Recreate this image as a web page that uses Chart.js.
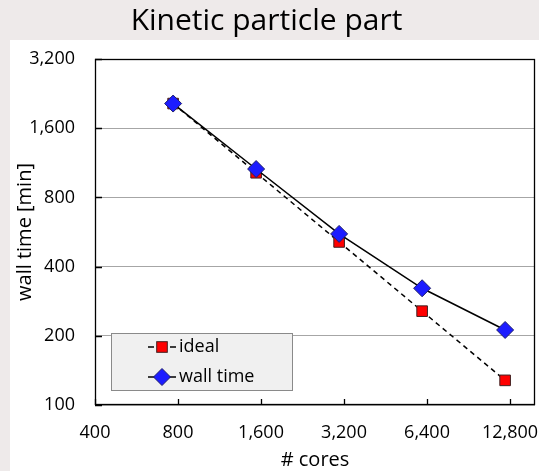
<!DOCTYPE html>
<html><head><meta charset="utf-8">
<script src="https://cdn.jsdelivr.net/npm/chart.js@4/dist/chart.umd.min.js"></script>
<style>html,body{margin:0;padding:0;background:#eeeaea;} #wrap{width:539px;height:471px;position:relative;}</style>
</head><body><div id="wrap"><canvas id="c" width="539" height="471"></canvas></div>
<script>
const chartTitle = 'Kinetic particle part';
const xTitle = '# cores';
const yTitle = 'wall time [min]';
const cores = [768, 1536, 3072, 6144, 12288];
const idealMinutes = [2048, 1024, 512, 256, 128];
const wallTimeMinutes = [2048, 1063, 555, 322, 212];
const xTicks = [400, 800, 1600, 3200, 6400, 12800];
const yTicks = [100, 200, 400, 800, 1600, 3200];
const seriesNames = ['ideal', 'wall time'];

const FONT = 'Open Sans';
const fmt = v => Number(v).toLocaleString('en-US');

const deco = {
  id: 'deco',
  beforeDraw(chart) {
    const ctx = chart.ctx; ctx.save();
    ctx.fillStyle = '#eeeaea'; ctx.fillRect(0, 0, 539, 471);
    ctx.fillStyle = '#ffffff'; ctx.fillRect(10, 40, 529, 431);
    ctx.fillStyle = '#000'; ctx.font = '30px "' + FONT + '"';
    ctx.textAlign = 'center'; ctx.textBaseline = 'alphabetic';
    ctx.fillText(chartTitle, 266.5, 29.5);
    ctx.restore();
  },
  beforeDatasetsDraw(chart) {
    const {ctx, chartArea: a, scales: {x, y}} = chart;
    ctx.save(); ctx.strokeStyle = '#000'; ctx.lineWidth = 1.3;
    const L = Math.round(a.left), T = Math.round(a.top), R = Math.round(a.right), B = Math.round(a.bottom);
    ctx.strokeRect(L + 0.5, T + 0.5, R - L - 1, B - T - 1);
    ctx.beginPath();
    xTicks.forEach(v => { const px = Math.round(x.getPixelForValue(v)) + 0.5; ctx.moveTo(px, a.bottom); ctx.lineTo(px, a.bottom - 6); });
    yTicks.forEach(v => { const py = Math.round(y.getPixelForValue(v)) + 0.5; ctx.moveTo(a.left, py); ctx.lineTo(a.left + 7, py); });
    ctx.stroke(); ctx.restore();
  },
  afterDraw(chart) {
    const ctx = chart.ctx; ctx.save();
    ctx.fillStyle = '#f0f0f0'; ctx.fillRect(111, 333, 182, 58);
    ctx.strokeStyle = '#8a8a8a'; ctx.lineWidth = 1; ctx.strokeRect(111.5, 333.5, 181, 57);
    const ds = chart.data.datasets;
    let yy = 347;
    ctx.strokeStyle = '#000'; ctx.lineWidth = 1.5;
    ctx.beginPath(); ctx.moveTo(148, yy); ctx.lineTo(154, yy); ctx.moveTo(170, yy); ctx.lineTo(176, yy); ctx.stroke();
    const idealDs = ds.find(d => d.label === seriesNames[0]);
    ctx.fillStyle = idealDs.pointBackgroundColor; ctx.strokeStyle = idealDs.pointBorderColor; ctx.lineWidth = 1;
    ctx.fillRect(156.7, yy - 5.3, 10.6, 10.6); ctx.strokeRect(156.7, yy - 5.3, 10.6, 10.6);
    ctx.fillStyle = '#000'; ctx.font = '18px "' + FONT + '"'; ctx.textAlign = 'left'; ctx.textBaseline = 'middle';
    ctx.fillText(seriesNames[0], 179, yy);
    yy = 377;
    ctx.strokeStyle = '#000'; ctx.lineWidth = 1.5;
    ctx.beginPath(); ctx.moveTo(148, yy); ctx.lineTo(176, yy); ctx.stroke();
    const wallDs = ds.find(d => d.label === seriesNames[1]);
    ctx.fillStyle = wallDs.pointBackgroundColor; ctx.strokeStyle = wallDs.pointBorderColor; ctx.lineWidth = 1;
    const r = 8.5;
    ctx.beginPath(); ctx.moveTo(162 - r, yy); ctx.lineTo(162, yy - r); ctx.lineTo(162 + r, yy); ctx.lineTo(162, yy + r); ctx.closePath(); ctx.fill(); ctx.stroke();
    ctx.fillStyle = '#000';
    ctx.fillText(seriesNames[1], 179, yy);
    ctx.restore();
  }
};

new Chart(document.getElementById('c'), {
  type: 'line',
  data: {
    datasets: [
      {
        label: seriesNames[1],
        data: cores.map((c, i) => ({x: c, y: wallTimeMinutes[i]})),
        borderColor: '#000', borderWidth: 1.5,
        pointStyle: 'rectRot', pointRadius: 8.5,
        pointBackgroundColor: '#1c1cff', pointBorderColor: '#20206a', pointBorderWidth: 1,
        tension: 0
      },
      {
        label: seriesNames[0],
        data: cores.map((c, i) => ({x: c, y: idealMinutes[i]})),
        borderColor: '#000', borderWidth: 1.5, borderDash: [5, 4],
        pointStyle: 'rect', pointRadius: 7.5,
        pointBackgroundColor: '#ff0000', pointBorderColor: '#402020', pointBorderWidth: 1,
        tension: 0
      }
    ]
  },
  options: {
    responsive: false, animation: false, devicePixelRatio: 1,
    layout: {autoPadding: false, padding: {top: 59, right: 4, left: 0, bottom: 0}},
    plugins: {legend: {display: false}, tooltip: {enabled: false}, title: {display: false}},
    scales: {
      x: {
        type: 'logarithmic', min: 400, max: 15770,
        afterBuildTicks(s) { s.ticks = xTicks.map(v => ({value: v})); },
        ticks: {callback: v => fmt(v), font: {family: FONT, size: 18}, color: '#000', padding: 17, maxRotation: 0, autoSkip: false},
        grid: {display: false, drawTicks: false},
        border: {display: false},
        title: {display: true, text: xTitle, font: {family: FONT, size: 20}, color: '#000', padding: {top: 0, bottom: -1}},
        afterFit(s) { s.height = 66; s.paddingRight = 0; s.paddingLeft = 0; }
      },
      y: {
        type: 'logarithmic', min: 100, max: 3200,
        afterBuildTicks(s) { s.ticks = yTicks.map(v => ({value: v})); },
        ticks: {callback: v => fmt(v), font: {family: FONT, size: 18}, color: '#000', padding: 20, autoSkip: false},
        grid: {color: '#a6a6a6', drawTicks: false, lineWidth: 1},
        border: {display: false},
        title: {display: true, text: yTitle, font: {family: FONT, size: 20}, color: '#000', padding: {top: 13, bottom: 0}},
        afterFit(s) { s.width = 95; s.paddingTop = 0; s.paddingBottom = 0; }
      }
    }
  },
  plugins: [deco]
});
</script>
</body></html>
